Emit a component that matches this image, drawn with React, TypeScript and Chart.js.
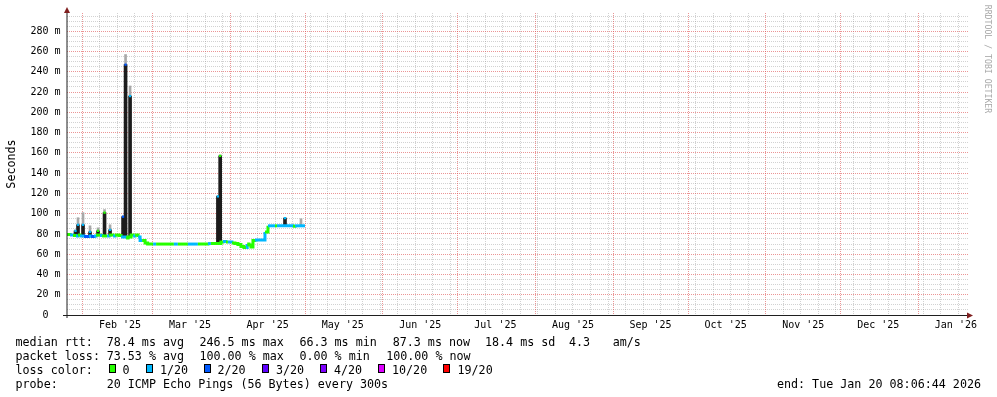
import React, { useEffect, useRef } from "react";
import { Chart, registerables } from "chart.js";

Chart.register(...registerables);

// ---------- time axis ----------
const DAY = 86400000;
const axisStart = Date.UTC(2025, 0, 25, 20, 6, 44);
const spanDays = 360;

const monthStarts = [
  "2025-02-01", "2025-03-01", "2025-04-01", "2025-05-01", "2025-06-01", "2025-07-01",
  "2025-08-01", "2025-09-01", "2025-10-01", "2025-11-01", "2025-12-01", "2026-01-01",
];
const monthLabels = [
  "Feb '25", "Mar '25", "Apr '25", "May '25", "Jun '25", "Jul '25",
  "Aug '25", "Sep '25", "Oct '25", "Nov '25", "Dec '25", "Jan '26",
];
const firstWeekLine = "2025-02-08";

// ---------- value axis ----------
const yMax = 298;
const yMajorTicks = [0, 20, 40, 60, 80, 100, 120, 140, 160, 180, 200, 220, 240, 260, 280];
const yTickLabels = [
  "0  ", "20 m", "40 m", "60 m", "80 m", "100 m", "120 m", "140 m",
  "160 m", "180 m", "200 m", "220 m", "240 m", "260 m", "280 m",
];

// ---------- median rtt (days since axis start, ms, loss bucket) ----------
const medianDay = [
  0.0, 1.2, 2.4, 3.6, 4.4, 5.2, 6.8, 8.8, 9.6, 10.8, 11.6, 13.2, 14.0, 16.0, 16.8,
  18.4, 19.2, 20.8, 21.6, 23.6, 24.4, 25.6, 26.4, 27.2, 28.4, 29.2, 30.0, 31.2, 32.2,
  34.4, 35.6, 42.7, 44.3, 48.3, 52.3, 56.3, 57.5, 61.5, 62.3, 63.5, 64.3, 65.9, 67.1,
  68.3, 69.5, 70.7, 71.6, 72.0, 72.7, 73.5, 74.3, 75.1, 79.1, 80.3, 83.1, 83.9, 87.9,
  90.3, 91.1, 95.1,
];
const medianRtt = [
  79.5, 79, 78.5, 78, 79, 78, 77.5, 78, 77.5, 78, 79, 78.5, 78, 78, 79,
  78, 79, 78.5, 77, 76, 77, 79, 78, 79, 77, 73.5, 73.5, 71, 70,
  70, 70, 70, 70, 70, 70, 70.5, 70.5, 72, 72.5, 72, 72, 71, 70.5,
  69.5, 67.5, 66.5, 66.5, 70, 69, 67, 73.5, 74, 82, 88, 88, 88, 88,
  87.5, 88, 88,
];
const medianLoss = [
  0, 1, 0, 1, 0, 1, 2, 1, 2, 1, 0, 1, 0, 1, 0,
  1, 0, 0, 1, 0, 0, 0, 1, 0, 1, 1, 0, 0, 0,
  1, 0, 1, 0, 1, 0, 1, 0, 0, 1, 0, 1, 0, 0,
  0, 0, 0, 1, 0, 0, 0, 0, 1, 0, 1, 0, 1, 1,
  0, 1, 1,
];

// ---------- smoke spikes ----------
const spikeDay = [3.4, 4.4, 6.4, 9.2, 12.4, 15.0, 17.2, 22.4, 23.4, 25.2, 60.3, 61.2, 87.1, 93.5];
const spikeBase = [78, 78, 78, 78, 78, 78, 78, 77, 77, 78, 70, 70, 88, 88];
const spikeMedian = [83, 89, 89, 82, 83, 101, 84, 97, 247, 216, 117, 157, 95.6, 88];
const spikeSmokeTop = [84, 96, 101, 88, 86, 104, 89, 98, 257, 226, 118, 158, 96, 95];
const spikeLoss = [1, 1, 1, 1, 0, 0, 1, 2, 2, 1, 1, 0, 1, 1];

// ---------- legend ----------
const lossLabels = ["0", "1/20", "2/20", "3/20", "4/20", "10/20", "19/20"];
const lossColors = ["#26ff00", "#00b8ff", "#0059ff", "#5e00ff", "#7e00ff", "#dd00ff", "#ff0000"];

const rttLine = [
  "median rtt:", "78.4 ms avg", "246.5 ms max", "66.3 ms min", "87.3 ms now", "18.4 ms sd", "4.3", "am/s",
];
const lossLine = ["packet loss:", "73.53 % avg", "100.00 % max", "0.00 % min", "100.00 % now"];
const probeLine = ["probe:", "20 ICMP Echo Pings (56 Bytes) every 300s"];
const endText = "end: Tue Jan 20 08:06:44 2026";

// ---------- layout constants (not data) ----------
const W = 997;
const H = 397;
const PLOT_L = 67;
const PLOT_R = 968;
const PLOT_T = 13;
const PLOT_B = 315;
const FONT = "'DejaVu Sans Mono', monospace";
const rttX = [15.5, 106.7, 199.4, 299.4, 392.7, 485, 569, 612.7];
const lossX = [15.5, 106.7, 199.4, 299.4, 386.2];
const probeX = [15.5, 106.7];
const boxX = [109, 146, 204, 262, 320, 378, 443];
const boxLabelX = [122.5, 160, 217.5, 276, 334, 392, 457.5];
const baselines = [346.5, 360.2, 374, 387.7];

const dayOf = (s: string) => (Date.parse(s + "T00:00:00Z") - axisStart) / DAY;
const monthTickDays = monthStarts.map(dayOf);
const weekTickDays: number[] = [];
for (let d = dayOf(firstWeekLine); d < spanDays; d += 7) {
  if (!monthTickDays.some((m) => Math.abs(m - d) < 0.5)) weekTickDays.push(d);
}
const yMinorTicks: number[] = [];
for (let v = 5; v < yMax; v += 5) if (v % 20 !== 0) yMinorTicks.push(v);

const minorGrid = "rgba(143,143,143,0.4)";
const majorGrid = "rgba(222,79,79,0.6)";

const axesPlugin = {
  id: "rrdAxes",
  afterDatasetsDraw(chart: any) {
    const { ctx, chartArea: a } = chart;
    ctx.save();
    ctx.strokeStyle = "#1f1f1f";
    ctx.lineWidth = 1;
    ctx.beginPath();
    ctx.moveTo(a.left - 4, a.bottom + 0.5);
    ctx.lineTo(a.right + 1, a.bottom + 0.5);
    ctx.stroke();
    ctx.beginPath();
    ctx.moveTo(a.left, a.bottom + 3);
    ctx.lineTo(a.left, a.top - 3);
    ctx.stroke();
    ctx.fillStyle = "#801f1f";
    ctx.beginPath();
    ctx.moveTo(a.left - 3, a.top);
    ctx.lineTo(a.left + 3, a.top);
    ctx.lineTo(a.left, a.top - 6);
    ctx.closePath();
    ctx.fill();
    ctx.beginPath();
    ctx.moveTo(a.right - 1, a.bottom + 0.5 - 3);
    ctx.lineTo(a.right - 1, a.bottom + 0.5 + 3);
    ctx.lineTo(a.right + 5, a.bottom + 0.5);
    ctx.closePath();
    ctx.fill();
    ctx.restore();
  },
};

function Txt(props: { x: number; base: number; text: string; right?: boolean }) {
  const style: React.CSSProperties = {
    position: "absolute",
    top: props.base - 11.05,
    font: `11.7px ${FONT}`,
    lineHeight: "14px",
    whiteSpace: "pre",
    color: "#000",
  };
  if (props.right) style.right = W - props.x;
  else style.left = props.x;
  return <div style={style}>{props.text}</div>;
}

export default function App() {
  const ref = useRef<HTMLCanvasElement>(null);

  useEffect(() => {
    const tickFont = { family: FONT, size: 10 };
    const gridCommon = { drawTicks: false, offset: false, lineWidth: 1 };
    const borderCommon = { display: false, dash: [1, 1] };
    const chart = new Chart(ref.current as HTMLCanvasElement, {
      type: "line",
      data: {
        datasets: [
          {
            type: "scatter",
            label: "median marks",
            data: spikeDay.map((d, i) => ({ x: d, y: spikeMedian[i] })),
            pointStyle: "rect",
            pointRadius: 1.6,
            pointBorderWidth: 0,
            pointBackgroundColor: spikeLoss.map((l) => lossColors[l]),
            showLine: false,
            order: 0,
            xAxisID: "x",
            yAxisID: "y",
          } as any,
          {
            type: "line",
            label: "median rtt",
            data: medianDay.map((d, i) => ({ x: d, y: medianRtt[i] })),
            stepped: true,
            borderWidth: 3,
            pointRadius: 0,
            borderColor: lossColors[0],
            segment: {
              borderColor: (c: any) => lossColors[medianLoss[c.p0DataIndex]],
            },
            order: 1,
            xAxisID: "x",
            yAxisID: "y",
          } as any,
          {
            type: "bar",
            label: "smoke core",
            data: spikeDay.map((d, i) => ({ x: d, y: [spikeBase[i], spikeMedian[i]] })),
            backgroundColor: "#1c1c1c",
            barThickness: 3,
            grouped: false,
            borderWidth: 0,
            order: 2,
            xAxisID: "x",
            yAxisID: "y",
          } as any,
          {
            type: "bar",
            label: "smoke outer",
            data: spikeDay.map((d, i) => ({ x: d, y: [spikeMedian[i], spikeSmokeTop[i]] })),
            backgroundColor: "#a8a8a8",
            barThickness: 2,
            grouped: false,
            borderWidth: 0,
            order: 3,
            xAxisID: "x",
            yAxisID: "y",
          } as any,
        ],
      },
      options: {
        responsive: false,
        animation: false,
        devicePixelRatio: 1,
        layout: { padding: { left: 0, top: PLOT_T, right: W - PLOT_R, bottom: 0 } },
        plugins: { legend: { display: false }, tooltip: { enabled: false }, title: { display: false } },
        events: [],
        scales: {
          xWeek: {
            type: "linear",
            position: "bottom",
            min: 0,
            max: spanDays,
            offset: false,
            afterBuildTicks: (s: any) => {
              s.ticks = weekTickDays.map((v) => ({ value: v }));
            },
            afterFit: (s: any) => {
              s.height = 0;
            },
            ticks: { display: false },
            grid: { ...gridCommon, color: minorGrid },
            border: borderCommon,
          },
          yMinor: {
            type: "linear",
            position: "left",
            min: 0,
            max: yMax,
            afterBuildTicks: (s: any) => {
              s.ticks = yMinorTicks.map((v) => ({ value: v }));
            },
            afterFit: (s: any) => {
              s.width = 0;
            },
            ticks: { display: false },
            grid: { ...gridCommon, color: minorGrid },
            border: borderCommon,
          },
          x: {
            type: "linear",
            position: "bottom",
            min: 0,
            max: spanDays,
            offset: false,
            afterBuildTicks: (s: any) => {
              s.ticks = monthTickDays.map((v) => ({ value: v }));
            },
            afterFit: (s: any) => {
              s.height = H - PLOT_B;
            },
            ticks: {
              autoSkip: false,
              maxRotation: 0,
              minRotation: 0,
              labelOffset: (15 * (PLOT_R - PLOT_L)) / spanDays,
              padding: 4,
              font: tickFont,
              color: "#000",
              callback: (_v: any, i: number) => monthLabels[i],
            },
            grid: { ...gridCommon, color: majorGrid },
            border: borderCommon,
          },
          y: {
            type: "linear",
            position: "left",
            min: 0,
            max: yMax,
            afterBuildTicks: (s: any) => {
              s.ticks = yMajorTicks.map((v) => ({ value: v }));
            },
            afterFit: (s: any) => {
              s.width = PLOT_L;
            },
            ticks: {
              padding: 6.5,
              font: tickFont,
              color: "#000",
              callback: (_v: any, i: number) => yTickLabels[i],
            },
            grid: { ...gridCommon, color: majorGrid },
            border: borderCommon,
          },
        },
      } as any,
      plugins: [axesPlugin],
    });
    return () => chart.destroy();
  }, []);

  return (
    <div
      style={{
        position: "absolute",
        left: 0,
        top: 0,
        width: W,
        height: H,
        background: "#fff",
        overflow: "hidden",
      }}
    >
      <canvas
        ref={ref}
        width={W}
        height={H}
        style={{ position: "absolute", left: 0, top: 0, width: W, height: H }}
      />
      <div
        style={{
          position: "absolute",
          left: 11 - 40,
          top: 164 - 7,
          width: 80,
          height: 14,
          lineHeight: "14px",
          textAlign: "center",
          font: `11.7px ${FONT}`,
          color: "#000",
          transform: "rotate(-90deg)",
        }}
      >
        Seconds
      </div>
      <div
        style={{
          position: "absolute",
          left: 986.7 - 70,
          top: 59 - 6,
          width: 140,
          height: 12,
          lineHeight: "12px",
          textAlign: "center",
          font: `8.2px ${FONT}`,
          color: "#a8a8a8",
          transform: "rotate(90deg)",
          whiteSpace: "pre",
        }}
      >
        RRDTOOL / TOBI OETIKER
      </div>
      {rttLine.map((t, i) => (
        <Txt key={"r" + i} x={rttX[i]} base={baselines[0]} text={t} />
      ))}
      {lossLine.map((t, i) => (
        <Txt key={"l" + i} x={lossX[i]} base={baselines[1]} text={t} />
      ))}
      <Txt x={15.5} base={baselines[2]} text="loss color:" />
      {lossLabels.map((t, i) => (
        <React.Fragment key={"c" + i}>
          <div
            style={{
              position: "absolute",
              left: boxX[i],
              top: 364,
              width: 7,
              height: 9,
              boxSizing: "border-box",
              border: "1px solid #000",
              background: lossColors[i],
            }}
          />
          <Txt x={boxLabelX[i]} base={baselines[2]} text={t} />
        </React.Fragment>
      ))}
      {probeLine.map((t, i) => (
        <Txt key={"p" + i} x={probeX[i]} base={baselines[3]} text={t} />
      ))}
      <Txt x={981} base={baselines[3]} text={endText} right />
    </div>
  );
}
